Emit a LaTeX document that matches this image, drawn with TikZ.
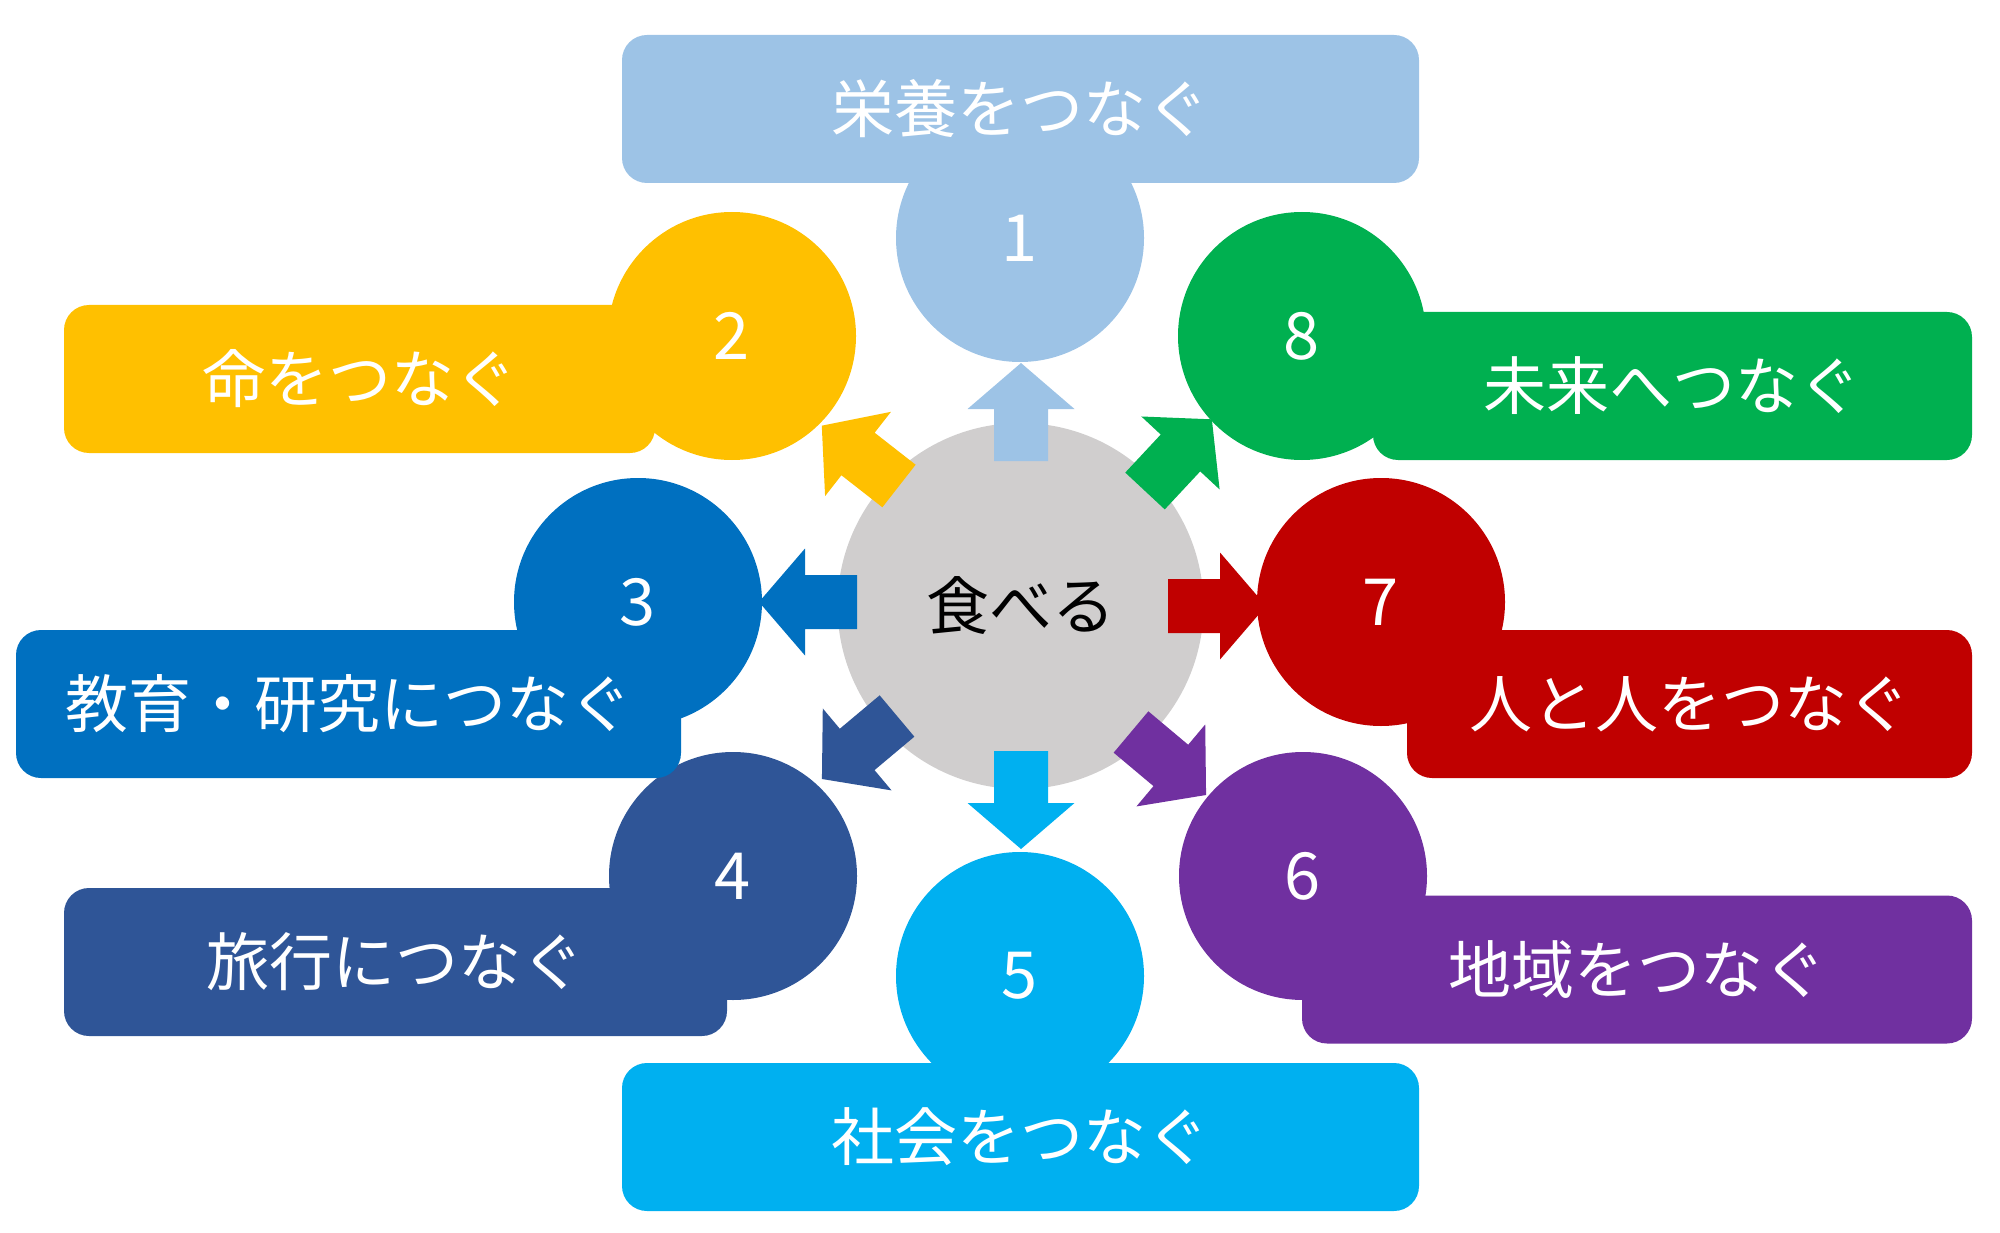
\documentclass[tikz,border=0pt]{standalone}
\usepackage{fontspec}
\newfontfamily\jpfont{Noto Sans CJK JP}
\definecolor{colA}{HTML}{9DC3E6}
\definecolor{colB}{HTML}{FFC000}
\definecolor{colC}{HTML}{0070C0}
\definecolor{colD}{HTML}{2F5597}
\definecolor{colE}{HTML}{00B0F0}
\definecolor{colF}{HTML}{7030A0}
\definecolor{colG}{HTML}{C00000}
\definecolor{colH}{HTML}{00B050}
\definecolor{colGray}{HTML}{D0CECE}
\newcommand\blockarrow[4]{%
  \fill[#4, shift={(#1,#2)}, rotate=#3] (0,-27) -- (52,-27) -- (52,-53.5) -- (98,0) -- (52,53.5) -- (52,27) -- (0,27) -- cycle;}
\begin{document}
\begin{tikzpicture}[x=1pt,y=-1pt,
  disc/.style={circle, minimum size=248pt, inner sep=0pt},
  pill/.style={rectangle, rounded corners=25pt, inner sep=0pt, minimum height=148pt},
  lab/.style={text=white, inner sep=0pt, font=\jpfont\fontsize{63}{63}\selectfont},
  num/.style={text=white, inner sep=0pt, font=\jpfont\fontsize{65}{65}\selectfont}]
\useasboundingbox (0,0) rectangle (2000,1233);
% centre
\node[circle, minimum size=366pt, inner sep=0pt, fill=colGray] (g) at (1020.5,606) {};
% arrows
\blockarrow{1021}{461}{90}{colA}
\blockarrow{899}{486}{142}{colB}
\blockarrow{857}{602}{180}{colC}
\blockarrow{897}{716}{220}{colD}
\blockarrow{1021}{751}{270}{colE}
\blockarrow{1131}{732}{320}{colF}
\blockarrow{1168}{606}{0}{colG}
\blockarrow{1145}{491}{47}{colH}
% circles
\node[disc, fill=colA] (c1) at (1020,238) {};
\node[disc, fill=colB] (c2) at (732,336) {};
\node[disc, fill=colC] (c3) at (638,602) {};
\node[disc, fill=colD] (c4) at (733,876) {};
\node[disc, fill=colE] (c5) at (1020,976) {};
\node[disc, fill=colF] (c6) at (1303,876) {};
\node[disc, fill=colG] (c7) at (1381,602) {};
\node[disc, fill=colH] (c8) at (1302,336) {};
% boxes
\node[pill, fill=colA, minimum width=797pt] (b1) at (1020.5,109) {};
\node[pill, fill=colB, minimum width=591pt] (b2) at (359.5,379) {};
\node[pill, fill=colC, minimum width=665pt] (b3) at (348.5,704) {};
\node[pill, fill=colD, minimum width=663pt] (b4) at (395.5,962) {};
\node[pill, fill=colE, minimum width=797pt] (b5) at (1020.5,1137) {};
\node[pill, fill=colF, minimum width=670pt] (b6) at (1637,969.5) {};
\node[pill, fill=colG, minimum width=565pt] (b7) at (1689.5,704) {};
\node[pill, fill=colH, minimum width=599pt] (b8) at (1672.5,386) {};
% texts
\node[lab, text=black] (tg) at (g) {食べる};
\node[num] (n1) at (c1) {1};
\node[num] (n2) at (c2) {2};
\node[num] (n3) at (c3) {3};
\node[num] (n4) at (c4) {4};
\node[num] (n5) at (c5) {5};
\node[num] (n6) at (c6) {6};
\node[num] (n7) at (c7) {7};
\node[num] (n8) at (c8) {8};
\node[lab] (t1) at (b1) {栄養をつなぐ};
\node[lab] (t2) at (b2) {命をつなぐ};
\node[lab] (t3) at (b3) {教育・研究につなぐ};
\node[lab] (t4) at (b4) {旅行につなぐ};
\node[lab] (t5) at (b5) {社会をつなぐ};
\node[lab] (t6) at (b6) {地域をつなぐ};
\node[lab] (t7) at (b7) {人と人をつなぐ};
\node[lab] (t8) at (b8) {未来へつなぐ};
\end{tikzpicture}
\end{document}
